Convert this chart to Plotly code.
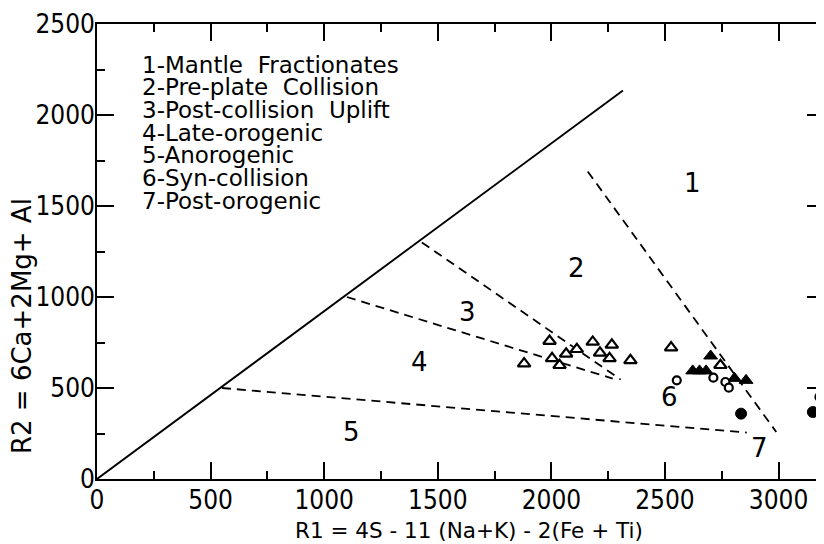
import plotly.graph_objects as go

# ---- data ----
# boundary lines (R1, R2)
solid_x = [0, 2315]
solid_y = [0, 2135]
bound5_x = [550, 2860]
bound5_y = [500, 255]
bound43_x = [1100, 2270]
bound43_y = [1000, 552]
bound32_x = [1430, 2305]
bound32_y = [1300, 546]
bound21_x = [2160, 2990]
bound21_y = [1690, 258]

# samples
open_tri_x = [1880, 1992, 2003, 2036, 2065, 2112, 2182, 2214, 2266, 2256, 2348, 2527, 2744]
open_tri_y = [634, 758, 663, 625, 688, 713, 753, 693, 737, 663, 652, 722, 625]
filled_tri_x = [2622, 2652, 2681, 2701, 2806, 2857]
filled_tri_y = [594, 594, 594, 676, 553, 542]
open_circ_x = [2552, 2713, 2766, 2781, 3180]
open_circ_y = [542, 557, 533, 502, 451]
filled_circ_x = [2835, 3151]
filled_circ_y = [359, 368]

# field labels
field_labels = ["1", "2", "3", "4", "5", "6", "7"]
field_x = [2620, 2111, 1631, 1419, 1120, 2520, 2916]
field_y = [1624, 1157, 916, 641, 257, 449, 169]

legend_lines = [
    "1-Mantle\u00a0 Fractionates",
    "2-Pre-plate\u00a0 Collision",
    "3-Post-collision\u00a0 Uplift",
    "4-Late-orogenic",
    "5-Anorogenic",
    "6-Syn-collision",
    "7-Post-orogenic",
]

x_ticks = [0, 500, 1000, 1500, 2000, 2500, 3000]
y_ticks = [0, 500, 1000, 1500, 2000, 2500]

x_title = "R1 = 4S - 11 (Na+K) - 2(Fe + Ti)"
y_title = "R2 = 6Ca+2Mg+\u00a0Al"

# ---- figure ----
# the page adds an 8px body margin, so the figure is drawn 8px smaller
OFF = 8
W, H = 824 - OFF, 544 - OFF
ML, MR, MT, MB = 97 - OFF, 0, 24 - OFF, 544 - 479
PW, PH = W - ML - MR, H - MT - MB


def px_to_paper(px, py):
    """page pixel -> paper coords"""
    return (px - OFF - ML) / PW, (H - MB - (py - OFF)) / PH


TICKFONT = dict(family="Liberation Sans Narrow, DejaVu Sans Condensed, Arial Narrow, sans-serif",
                size=26, color="black")
TEXTFONT = dict(family="DejaVu Sans, sans-serif", color="black")

fig = go.Figure()

fig.add_trace(go.Scatter(x=solid_x, y=solid_y, mode="lines",
                         line=dict(color="black", width=1.9), hoverinfo="skip"))
for bx, by in [(bound5_x, bound5_y), (bound43_x, bound43_y),
               (bound32_x, bound32_y), (bound21_x, bound21_y)]:
    fig.add_trace(go.Scatter(x=bx, y=by, mode="lines",
                             line=dict(color="black", width=1.8, dash="9px,6px"),
                             hoverinfo="skip"))

fig.add_trace(go.Scatter(x=open_tri_x, y=open_tri_y, mode="markers",
                         marker=dict(symbol="triangle-up", size=11, color="white",
                                     line=dict(color="black", width=2.2))))
fig.add_trace(go.Scatter(x=filled_tri_x, y=filled_tri_y, mode="markers",
                         marker=dict(symbol="triangle-up", size=12, color="black",
                                     line=dict(color="black", width=1))))
fig.add_trace(go.Scatter(x=open_circ_x, y=open_circ_y, mode="markers",
                         marker=dict(symbol="circle", size=8, color="white",
                                     line=dict(color="black", width=2.2))))
fig.add_trace(go.Scatter(x=filled_circ_x, y=filled_circ_y, mode="markers",
                         marker=dict(symbol="circle", size=11, color="black",
                                     line=dict(color="black", width=1))))

annotations = []
for lab, lx, ly in zip(field_labels, field_x, field_y):
    annotations.append(dict(x=lx, y=ly, xref="x", yref="y", text=lab, showarrow=False,
                            font=dict(TEXTFONT, size=26), xanchor="center", yanchor="middle"))

for i, line in enumerate(legend_lines):
    ax, ay = px_to_paper(140, 64.5 + i * 22.7)
    annotations.append(dict(x=ax, y=ay, xref="paper", yref="paper",
                            text=line, showarrow=False, font=dict(TEXTFONT, size=23),
                            xanchor="left", yanchor="middle"))

ax, ay = px_to_paper(469, 530)
annotations.append(dict(x=ax, y=ay, xref="paper", yref="paper",
                        text=x_title, showarrow=False, font=dict(TEXTFONT, size=21.5),
                        xanchor="center", yanchor="middle"))
ax, ay = px_to_paper(22, 326)
annotations.append(dict(x=ax, y=ay, xref="paper", yref="paper",
                        text=y_title, showarrow=False, textangle=-90,
                        font=dict(TEXTFONT, size=26),
                        xanchor="center", yanchor="middle"))

axis_common = dict(showline=True, linecolor="black", linewidth=1.8, mirror="ticks",
                   ticks="inside", ticklen=17, tickwidth=1.5, tickcolor="black",
                   showgrid=False, zeroline=False, tickfont=TICKFONT, automargin=False,
                   minor=dict(ticks="inside", ticklen=8, tickwidth=1.5, tickcolor="black",
                              dtick=250, showgrid=False))

fig.update_xaxes(range=[0, 3200], tickvals=x_ticks, ticktext=[str(v) for v in x_ticks],
                 **axis_common)
fig.update_yaxes(range=[0, 2500], tickvals=y_ticks, ticktext=[str(v) for v in y_ticks],
                 **axis_common)
try:
    fig.update_yaxes(ticklabelstandoff=-5)
    fig.update_xaxes(ticklabelstandoff=-3)
except Exception:
    pass

fig.update_layout(width=W, height=H, margin=dict(l=ML, r=MR, t=MT, b=MB, autoexpand=False),
                  paper_bgcolor="white", plot_bgcolor="white", showlegend=False,
                  annotations=annotations)

fig.write_html("out.html")
